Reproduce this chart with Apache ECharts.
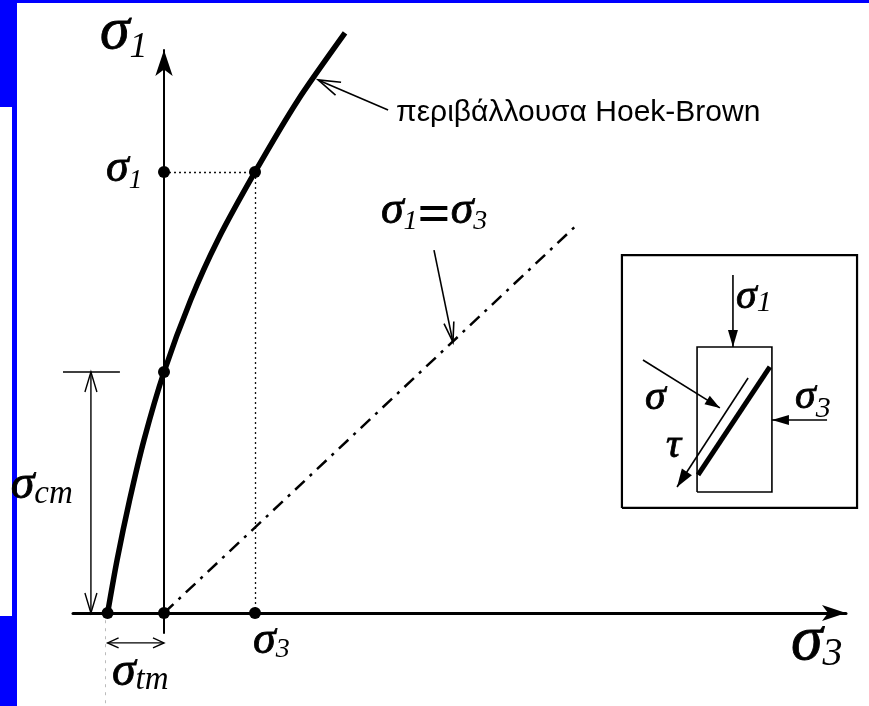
<!DOCTYPE html>
<html>
<head>
<meta charset="utf-8">
<script src="https://cdn.jsdelivr.net/npm/echarts@6/dist/echarts.min.js"></script>
<style>
  html, body { margin: 0; padding: 0; background: #fff; }
  #chart { width: 869px; height: 706px; }
</style>
</head>
<body>
<div id="chart"></div>
<script>
// Hoek-Brown failure envelope in the σ3–σ1 plane (stress units, σcm = 100)
const sigmaCm = 100;          // rock-mass uniaxial compressive strength
const sigmaTm = -22;          // rock-mass tensile strength
const sigma3Pt = 35.5;        // sample confining stress
const sigma1Pt = 183;         // strength at that confining stress

const envelope = [
  [-22, 0], [-18.3, 22], [-13.4, 46.9], [-7.8, 71.8], [0, 100],
  [10.4, 129.9], [21, 154.8], [35.5, 183], [52.3, 212.9], [70.6, 240.7]
];
const markedPoints = [
  [sigmaTm, 0], [0, 0], [sigma3Pt, 0], [0, sigmaCm], [0, sigma1Pt], [sigma3Pt, sigma1Pt]
];
const equalStressLine = [[0, 0], [160, 160]];

// leader arrows to the envelope and to the σ1 = σ3 line
const envelopePointer = [[87.4, 208.7], [60.1, 221.2]];
const equalPointer = [[105.3, 150.6], [112.7, 112.4]];

// dimension lines for σcm and σtm
const cmTick = [[-39.4, sigmaCm], [-17.2, sigmaCm]];
const cmDimX = -28.5;
const tmDimY = -12.4;
const tmGuide = [[-23, -3], [-23, -38]];

// inset sketch: specimen with a shear plane
const insetFrame = [[178.6, 43.6], [270.3, 43.6], [270.3, 148.5], [178.6, 148.5], [178.6, 43.6]];
const specimen = [[207.9, 50.2], [237.1, 50.2], [237.1, 110.4], [207.9, 110.4], [207.9, 50.2]];
const shearPlane = [[208.3, 57.3], [236.3, 102.1]];
const loadSigma1 = [[221.9, 140.2], [221.9, 110.4]];
const loadSigma3 = [[258.6, 80.1], [237.1, 80.1]];
const normalStress = [[186.8, 105], [216.8, 85.1]];
const shearStress = [[227.8, 97.5], [200.1, 52.3]];

// pixel scale of the drawing
const PX_X = 2.564, PX_Y = 2.41;
const ORIGIN = [164, 613];
const W = 869, H = 706;
const gridBox = { left: 73, right: 23, top: 50, bottom: 73 };
const xMin = -(ORIGIN[0] - gridBox.left) / PX_X;
const xMax = (W - gridBox.right - ORIGIN[0]) / PX_X;
const yMax = (ORIGIN[1] - gridBox.top) / PX_Y;
const yMin = -(H - gridBox.bottom - ORIGIN[1]) / PX_Y;

const serif = 'Liberation Serif, Times New Roman, serif';
function sig(F) {
  return { fontFamily: serif, fontStyle: 'italic', fontSize: F, lineHeight: F, verticalAlign: 'top', color: '#000',
    textBorderColor: '#000', textBorderWidth: 0.8 };
}
function sub(f, p) {
  return { fontFamily: serif, fontStyle: 'italic', fontSize: f, lineHeight: f, padding: [p, 0, 0, 0], verticalAlign: 'top', color: '#000' };
}
function sigmaLabel(pos, subText, F, f, p) {
  return {
    value: pos,
    label: {
      formatter: subText ? '{s|σ}{b|' + subText + '}' : '{s|σ}',
      rich: { s: sig(F), b: sub(f, p) }
    }
  };
}

const labels = [
  sigmaLabel([-25, 253.5], '1', 60, 36, 27),
  sigmaLabel([-22.6, 194], '1', 46, 27, 22),
  sigmaLabel([-59.8, 63], 'cm', 48, 33, 17),
  sigmaLabel([-20.3, -14.5], 'tm', 48, 33, 16),
  sigmaLabel([34.7, -2], '3', 46, 28, 18),
  sigmaLabel([244.5, 1], '3', 64, 40, 24),
  sigmaLabel([223.1, 140], '1', 42, 30, 13),
  sigmaLabel([187.6, 98], '', 42, 30, 0),
  sigmaLabel([246.1, 98.5], '3', 42, 30, 18),
  {
    value: [195.8, 78],
    label: { formatter: '{t|τ}', rich: { t: sig(42) } }
  },
  {
    value: [84.6, 176.5],
    label: {
      formatter: '{s|σ}{b|1}{e|=}{s|σ}{b|3}',
      rich: {
        s: sig(46), b: sub(28, 20),
        e: { fontFamily: serif, fontWeight: 'bold', fontSize: 58, lineHeight: 34, verticalAlign: 'top', color: '#000' }
      }
    }
  },
  {
    value: [90.5, 213.8],
    label: {
      formatter: 'περιβάλλουσα Hoek-Brown',
      fontFamily: 'Liberation Sans, Arial, sans-serif', fontSize: 30, lineHeight: 30, color: '#000'
    }
  }
];

// arrows: geometry from the arrays above, head shapes listed alongside
const arrowGeometry = [
  envelopePointer, equalPointer,
  [[cmDimX, sigmaCm], [cmDimX, 0]],
  [[sigmaTm, tmDimY], [0, tmDimY]],
  loadSigma1, loadSigma3, normalStress, shearStress
];
const arrowHeads = [
  { end: 'open', len: 22, half: 7, w: 1.6 },
  { end: 'open', len: 20, half: 5, w: 1.6 },
  { start: 'open', end: 'open', len: 20, half: 6, w: 1.4 },
  { start: 'open', end: 'open', len: 11, half: 5, w: 1.4 },
  { end: 'solid', len: 17, half: 5, w: 1.6 },
  { end: 'solid', len: 17, half: 5, w: 1.6 },
  { end: 'solid', len: 15, half: 5, w: 1.6 },
  { end: 'solid', len: 18, half: 6, w: 1.6 }
];

function renderArrow(params, api) {
  const st = arrowHeads[params.dataIndex];
  const a = api.coord([api.value(0), api.value(1)]);
  const b = api.coord([api.value(2), api.value(3)]);
  const children = [{
    type: 'line', shape: { x1: a[0], y1: a[1], x2: b[0], y2: b[1] },
    style: { stroke: '#000', lineWidth: st.w }
  }];
  function head(tip, tail, kind) {
    const dx = tip[0] - tail[0], dy = tip[1] - tail[1];
    const d = Math.hypot(dx, dy), ux = dx / d, uy = dy / d;
    const bx = tip[0] - ux * st.len, by = tip[1] - uy * st.len;
    const p1 = [bx - uy * st.half, by + ux * st.half];
    const p2 = [bx + uy * st.half, by - ux * st.half];
    if (kind === 'open') {
      children.push({ type: 'polyline', shape: { points: [p1, tip, p2] }, style: { stroke: '#000', lineWidth: st.w, fill: null } });
    } else {
      children.push({ type: 'polygon', shape: { points: [tip, p1, p2] }, style: { fill: '#000' } });
    }
  }
  if (st.start) head(a, b, st.start);
  if (st.end) head(b, a, st.end);
  return { type: 'group', children: children };
}

const option = {
  animation: false,
  backgroundColor: '#fff',
  graphic: [
    { type: 'rect', shape: { x: 0, y: 0, width: W, height: 3 }, style: { fill: '#0000ff' }, silent: true },
    { type: 'rect', shape: { x: 0, y: 0, width: 17, height: H }, style: { fill: '#0000ff' }, silent: true },
    { type: 'rect', shape: { x: 0, y: 107, width: 12, height: 509 }, style: { fill: '#fff' }, silent: true }
  ],
  grid: { left: gridBox.left, right: gridBox.right, top: gridBox.top, bottom: gridBox.bottom },
  xAxis: {
    type: 'value', min: xMin, max: xMax,
    axisLine: { onZero: true, lineStyle: { color: '#000', width: 3 }, symbol: ['none', 'arrow'], symbolSize: [12, 24] },
    axisTick: { show: false }, axisLabel: { show: false }, splitLine: { show: false }
  },
  yAxis: {
    type: 'value', min: yMin, max: yMax,
    axisLine: { onZero: true, lineStyle: { color: '#000', width: 2 }, symbol: ['none', 'arrow'], symbolSize: [13, 26] },
    axisTick: { show: false }, axisLabel: { show: false }, splitLine: { show: false }
  },
  series: [
    {
      name: 'σ1 = σ3', type: 'line', data: equalStressLine, showSymbol: false, clip: false,
      lineStyle: { color: '#000', width: 2.5, type: [13, 7, 3, 7] }, z: 2, silent: true
    },
    {
      name: 'projections', type: 'lines', coordinateSystem: 'cartesian2d', clip: false, silent: true,
      lineStyle: { color: '#111', width: 1.3, type: [2, 3], opacity: 1 },
      data: [
        { coords: [[0, sigma1Pt], [sigma3Pt, sigma1Pt]] },
        { coords: [[sigma3Pt, sigma1Pt], [sigma3Pt, 0]] }
      ], z: 2
    },
    {
      name: 'guide', type: 'lines', coordinateSystem: 'cartesian2d', clip: false, silent: true,
      lineStyle: { color: '#bbb', width: 1, type: [3, 5], opacity: 1 },
      data: [{ coords: tmGuide }], z: 1
    },
    {
      name: 'frames', type: 'lines', coordinateSystem: 'cartesian2d', polyline: true, clip: false, silent: true,
      data: [
        { coords: insetFrame, lineStyle: { color: '#000', width: 2.2, opacity: 1 } },
        { coords: specimen, lineStyle: { color: '#000', width: 1.6, opacity: 1 } },
        { coords: cmTick, lineStyle: { color: '#000', width: 1.3, opacity: 1 } },
        { coords: shearPlane, lineStyle: { color: '#000', width: 5, opacity: 1 } }
      ], z: 2
    },
    {
      name: 'Hoek-Brown', type: 'line', data: envelope, smooth: 0.25, showSymbol: false, clip: false,
      lineStyle: { color: '#000', width: 5.5 }, z: 3, silent: true
    },
    {
      name: 'arrows', type: 'custom', renderItem: renderArrow, clip: false, silent: true,
      data: arrowGeometry.map(function (g) { return [g[0][0], g[0][1], g[1][0], g[1][1]]; }),
      encode: { x: [0, 2], y: [1, 3] }, z: 4
    },
    {
      name: 'points', type: 'scatter', data: markedPoints, symbolSize: 12, clip: false,
      itemStyle: { color: '#000', opacity: 1 }, z: 5, silent: true
    },
    {
      name: 'labels', type: 'scatter', data: labels, symbolSize: 0, clip: false, silent: true,
      itemStyle: { color: 'rgba(0,0,0,0)', opacity: 1 },
      label: { show: true, position: [0, 0], align: 'left', verticalAlign: 'top', color: '#000', opacity: 1 }, z: 6
    }
  ]
};

const chart = echarts.init(document.getElementById('chart'), null, { renderer: 'canvas' });
chart.setOption(option);
</script>
</body>
</html>
